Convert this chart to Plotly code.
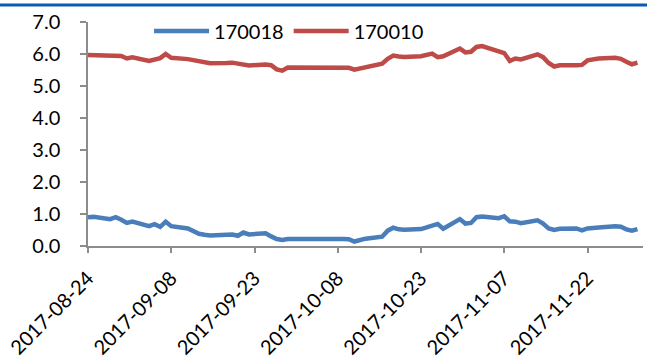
import datetime as dt
import plotly.graph_objects as go

# Trading-day offsets (calendar days after 2017-08-24)
day_offsets = [0, 1, 4, 5, 6, 7, 8, 11, 12, 13, 14, 15, 18, 19, 20, 21, 22,
               25, 26, 27, 28, 29, 32, 33, 34, 35, 36, 46, 47, 48, 49, 50,
               53, 54, 55, 56, 57, 60, 61, 62, 63, 64, 67, 68, 69, 70, 71,
               74, 75, 76, 77, 78, 81, 82, 83, 84, 85, 88, 89, 90, 91, 92,
               95, 96, 97, 98, 99]
start = dt.date(2017, 8, 24)
dates = [start + dt.timedelta(days=d) for d in day_offsets]

s170018 = [0.90, 0.91, 0.84, 0.90, 0.82, 0.72, 0.76, 0.62, 0.68, 0.60, 0.76, 0.62,
           0.55, 0.45, 0.38, 0.35, 0.33, 0.35, 0.36, 0.32, 0.42, 0.36, 0.40, 0.30,
           0.22, 0.19, 0.22, 0.22, 0.21, 0.14, 0.20, 0.23, 0.29, 0.48, 0.57, 0.52,
           0.51, 0.53, 0.58, 0.62, 0.69, 0.54, 0.84, 0.70, 0.72, 0.90, 0.92, 0.87,
           0.93, 0.77, 0.76, 0.71, 0.80, 0.70, 0.55, 0.50, 0.54, 0.55, 0.49, 0.55,
           0.58, 0.58, 0.62, 0.60, 0.52, 0.48, 0.53]

s170010 = [5.97, 5.97, 5.96, 5.96, 5.94, 5.86, 5.90, 5.78, 5.82, 5.87, 6.00, 5.88,
           5.84, 5.80, 5.77, 5.73, 5.71, 5.72, 5.73, 5.70, 5.66, 5.64, 5.67, 5.65,
           5.52, 5.48, 5.58, 5.58, 5.57, 5.51, 5.55, 5.59, 5.70, 5.85, 5.95, 5.92,
           5.91, 5.93, 5.98, 6.01, 5.90, 5.93, 6.17, 6.05, 6.07, 6.22, 6.25, 6.10,
           6.03, 5.78, 5.86, 5.83, 5.99, 5.90, 5.72, 5.61, 5.65, 5.65, 5.66, 5.80,
           5.84, 5.86, 5.88, 5.85, 5.76, 5.68, 5.73]

tick_dates = ["2017-08-24", "2017-09-08", "2017-09-23", "2017-10-08",
              "2017-10-23", "2017-11-07", "2017-11-22"]

FONT = "Lato, Carlito, Arial, sans-serif"
AXIS_GREY = "#8c8c8c"
FS = 20

fig = go.Figure()
fig.add_trace(go.Scatter(x=dates, y=s170018, name="170018", mode="lines",
                         line=dict(color="#4a7ebb", width=4.5)))
fig.add_trace(go.Scatter(x=dates, y=s170010, name="170010", mode="lines",
                         line=dict(color="#be4b48", width=4.5)))

fig.update_layout(
    width=647, height=359,
    margin=dict(l=88, r=4, t=22, b=113),
    paper_bgcolor="white", plot_bgcolor="white",
    font=dict(family=FONT, size=FS, color="black"),
    showlegend=True,
    legend=dict(orientation="h", x=0.11, y=0.96, xanchor="left", yanchor="middle",
                bgcolor="rgba(0,0,0,0)", font=dict(size=FS), itemwidth=55,
                tracegroupgap=0),
)
fig.update_xaxes(
    type="date", range=["2017-08-24", "2017-12-02"],
    tickvals=tick_dates, ticktext=tick_dates, tickangle=-45,
    showgrid=False, zeroline=False, automargin=False,
    showline=True, linecolor=AXIS_GREY, linewidth=1.5,
    ticks="outside", ticklen=5, tickcolor=AXIS_GREY, tickwidth=1.5,
    tickfont=dict(size=FS), ticklabelstandoff=6,
)
fig.update_yaxes(
    range=[0, 7], dtick=1, tickformat=".1f",
    showgrid=False, zeroline=False, automargin=False,
    showline=True, linecolor=AXIS_GREY, linewidth=1.5,
    ticks="outside", ticklen=6, tickcolor=AXIS_GREY, tickwidth=1.5,
    tickfont=dict(size=FS), ticklabelstandoff=16,
)

# Blue rule across the top of the page
fig.add_shape(type="line", xref="paper", yref="paper",
              x0=-88 / 555, x1=1 + 4 / 555, y0=(246 - 5) / 224, y1=(246 - 5) / 224,
              line=dict(color="#0b5cad", width=3))

fig.write_html("out.html")
